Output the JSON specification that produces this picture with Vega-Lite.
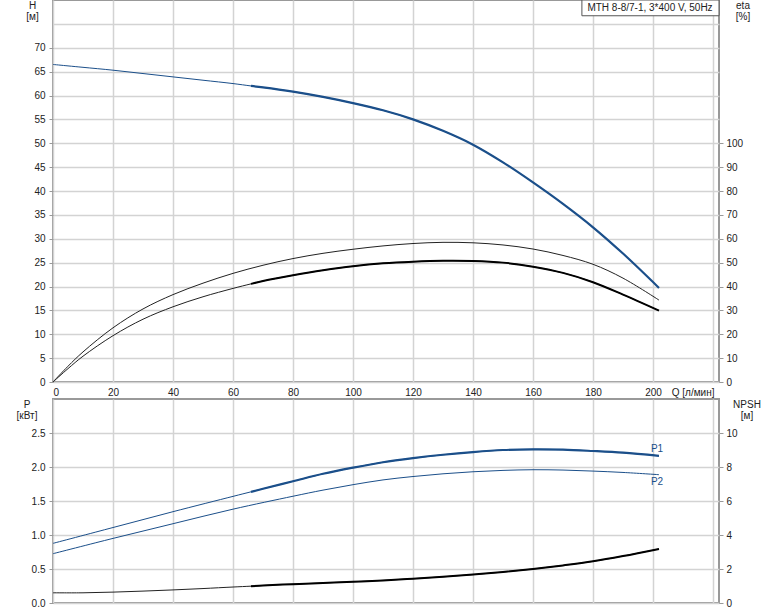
{
  "$schema": "https://vega.github.io/schema/vega-lite/v6.json",
  "padding": {"left": 15, "top": -2, "right": 0, "bottom": 0},
  "background": "white",
  "bounds": "flush",
  "spacing": 17,
  "config": {
    "font": "Liberation Sans",
    "view": {"stroke": "#999999", "strokeWidth": 2},
    "axis": {
      "labelFont": "Liberation Sans", "labelFontSize": 10, "labelColor": "#222222", "labelOverlap": false,
      "titleFont": "Liberation Sans", "titleFontSize": 10, "titleFontWeight": "normal", "titleColor": "#222222",
      "gridColor": "#d3d3d3", "gridWidth": 1.5, "tickColor": "#999999", "domain": false
    }
  },
  "datasets": {
    "H": [
      {"Q": 0, "H": 66.5}, {"Q": 5, "H": 66.2}, {"Q": 10, "H": 65.9}, {"Q": 20, "H": 65.3},
      {"Q": 30, "H": 64.6}, {"Q": 40, "H": 63.9}, {"Q": 50, "H": 63.2}, {"Q": 60, "H": 62.5},
      {"Q": 66, "H": 62.0}, {"Q": 70, "H": 61.7}, {"Q": 80, "H": 60.8}, {"Q": 90, "H": 59.7},
      {"Q": 100, "H": 58.4}, {"Q": 110, "H": 56.9}, {"Q": 120, "H": 55.0}, {"Q": 130, "H": 52.6},
      {"Q": 140, "H": 49.7}, {"Q": 150, "H": 46.0}, {"Q": 160, "H": 41.8}, {"Q": 170, "H": 37.3},
      {"Q": 180, "H": 32.4}, {"Q": 190, "H": 26.9}, {"Q": 202, "H": 19.7}
    ],
    "eta": [
      {"curve": "eta1", "Q": 0, "eta": 0}, {"curve": "eta1", "Q": 5, "eta": 6.6}, {"curve": "eta1", "Q": 10, "eta": 12.6},
      {"curve": "eta1", "Q": 20, "eta": 22.7}, {"curve": "eta1", "Q": 30, "eta": 30.6}, {"curve": "eta1", "Q": 40, "eta": 36.6},
      {"curve": "eta1", "Q": 50, "eta": 41.4}, {"curve": "eta1", "Q": 60, "eta": 45.5}, {"curve": "eta1", "Q": 70, "eta": 48.9},
      {"curve": "eta1", "Q": 80, "eta": 51.7}, {"curve": "eta1", "Q": 90, "eta": 53.9}, {"curve": "eta1", "Q": 100, "eta": 55.6},
      {"curve": "eta1", "Q": 110, "eta": 57.0}, {"curve": "eta1", "Q": 120, "eta": 58.0}, {"curve": "eta1", "Q": 130, "eta": 58.5},
      {"curve": "eta1", "Q": 140, "eta": 58.3}, {"curve": "eta1", "Q": 150, "eta": 57.4}, {"curve": "eta1", "Q": 160, "eta": 55.7},
      {"curve": "eta1", "Q": 170, "eta": 53.0}, {"curve": "eta1", "Q": 180, "eta": 49.3}, {"curve": "eta1", "Q": 190, "eta": 43.5},
      {"curve": "eta1", "Q": 202, "eta": 34.3},
      {"curve": "eta2", "Q": 0, "eta": 0}, {"curve": "eta2", "Q": 5, "eta": 5.6}, {"curve": "eta2", "Q": 10, "eta": 10.8},
      {"curve": "eta2", "Q": 20, "eta": 19.4}, {"curve": "eta2", "Q": 30, "eta": 26.3}, {"curve": "eta2", "Q": 40, "eta": 31.5},
      {"curve": "eta2", "Q": 50, "eta": 35.7}, {"curve": "eta2", "Q": 60, "eta": 39.2}, {"curve": "eta2", "Q": 66, "eta": 41.1},
      {"curve": "eta2", "Q": 70, "eta": 42.3}, {"curve": "eta2", "Q": 80, "eta": 44.7}, {"curve": "eta2", "Q": 90, "eta": 46.8},
      {"curve": "eta2", "Q": 100, "eta": 48.5}, {"curve": "eta2", "Q": 110, "eta": 49.7}, {"curve": "eta2", "Q": 120, "eta": 50.4},
      {"curve": "eta2", "Q": 130, "eta": 50.8}, {"curve": "eta2", "Q": 140, "eta": 50.7}, {"curve": "eta2", "Q": 150, "eta": 50.0},
      {"curve": "eta2", "Q": 160, "eta": 48.3}, {"curve": "eta2", "Q": 170, "eta": 45.7}, {"curve": "eta2", "Q": 180, "eta": 41.8},
      {"curve": "eta2", "Q": 190, "eta": 36.6}, {"curve": "eta2", "Q": 202, "eta": 29.9}
    ],
    "box": [{"Q": 176.3, "Q2": 222, "H": 76.7, "H2": 80, "Qt": 199, "Ht": 78.4, "label": "MTH 8-8/7-1, 3*400 V, 50Hz"}],
    "P": [
      {"curve": "P1", "Q": 0, "P": 0.877}, {"curve": "P1", "Q": 20, "P": 1.11}, {"curve": "P1", "Q": 40, "P": 1.343},
      {"curve": "P1", "Q": 60, "P": 1.568}, {"curve": "P1", "Q": 66, "P": 1.635}, {"curve": "P1", "Q": 70, "P": 1.68},
      {"curve": "P1", "Q": 80, "P": 1.79}, {"curve": "P1", "Q": 90, "P": 1.9}, {"curve": "P1", "Q": 100, "P": 1.99},
      {"curve": "P1", "Q": 110, "P": 2.07}, {"curve": "P1", "Q": 120, "P": 2.13}, {"curve": "P1", "Q": 130, "P": 2.18},
      {"curve": "P1", "Q": 140, "P": 2.22}, {"curve": "P1", "Q": 150, "P": 2.25}, {"curve": "P1", "Q": 160, "P": 2.26},
      {"curve": "P1", "Q": 170, "P": 2.255}, {"curve": "P1", "Q": 180, "P": 2.235}, {"curve": "P1", "Q": 190, "P": 2.21},
      {"curve": "P1", "Q": 202, "P": 2.165},
      {"curve": "P2", "Q": 0, "P": 0.725}, {"curve": "P2", "Q": 20, "P": 0.95}, {"curve": "P2", "Q": 40, "P": 1.166},
      {"curve": "P2", "Q": 60, "P": 1.38}, {"curve": "P2", "Q": 80, "P": 1.57}, {"curve": "P2", "Q": 90, "P": 1.66},
      {"curve": "P2", "Q": 100, "P": 1.74}, {"curve": "P2", "Q": 110, "P": 1.81}, {"curve": "P2", "Q": 120, "P": 1.86},
      {"curve": "P2", "Q": 130, "P": 1.90}, {"curve": "P2", "Q": 140, "P": 1.93}, {"curve": "P2", "Q": 150, "P": 1.95},
      {"curve": "P2", "Q": 160, "P": 1.96}, {"curve": "P2", "Q": 170, "P": 1.955}, {"curve": "P2", "Q": 180, "P": 1.94},
      {"curve": "P2", "Q": 190, "P": 1.92}, {"curve": "P2", "Q": 202, "P": 1.887}
    ],
    "Plabels": [{"Q": 199.3, "P": 2.265, "label": "P1"}, {"Q": 199.3, "P": 1.784, "label": "P2"}],
    "NPSH": [
      {"Q": 0, "NPSH": 0.6}, {"Q": 10, "NPSH": 0.6}, {"Q": 20, "NPSH": 0.64}, {"Q": 30, "NPSH": 0.7},
      {"Q": 40, "NPSH": 0.77}, {"Q": 50, "NPSH": 0.85}, {"Q": 60, "NPSH": 0.94}, {"Q": 66, "NPSH": 0.99},
      {"Q": 70, "NPSH": 1.03}, {"Q": 80, "NPSH": 1.11}, {"Q": 90, "NPSH": 1.18}, {"Q": 100, "NPSH": 1.25},
      {"Q": 110, "NPSH": 1.33}, {"Q": 120, "NPSH": 1.43}, {"Q": 130, "NPSH": 1.54}, {"Q": 140, "NPSH": 1.67},
      {"Q": 150, "NPSH": 1.82}, {"Q": 160, "NPSH": 2.0}, {"Q": 170, "NPSH": 2.21}, {"Q": 180, "NPSH": 2.45},
      {"Q": 190, "NPSH": 2.76}, {"Q": 202, "NPSH": 3.18}
    ]
  },
  "vconcat": [
    {
      "width": 666,
      "height": 382,
      "resolve": {"scale": {"y": "independent"}, "axis": {"y": "independent"}},
      "layer": [
        {
          "data": {"name": "H"},
          "mark": {"type": "line", "interpolate": "catmull-rom", "color": "#1b4f8a", "strokeWidth": 1},
          "encoding": {
            "x": {"field": "Q", "type": "quantitative", "scale": {"domain": [0, 222], "nice": false},
              "axis": {"orient": "bottom", "values": [0, 20, 40, 60, 80, 100, 120, 140, 160, 180, 200, 220],
                "labelExpr": "datum.value > 200 ? '' : datum.label", "ticks": false, "tickSize": 0, "labelPadding": 5,
                "title": "Q [л/мин]", "titleX": 661, "titleY": 13, "titleAlign": "right", "titleBaseline": "alphabetic", "grid": true}},
            "y": {"field": "H", "type": "quantitative", "scale": {"domain": [0, 80], "nice": false},
              "axis": {"orient": "left", "values": [0, 5, 10, 15, 20, 25, 30, 35, 40, 45, 50, 55, 60, 65, 70, 75],
                "labelExpr": "datum.value > 70 ? '' : datum.label",
                "tickOpacity": {"condition": {"test": "datum.value > 70", "value": 0}, "value": 1},
                "tickSize": 4, "labelPadding": 4, "grid": true,
                "title": ["H", "[м]"], "titleAngle": 0, "titleAlign": "center", "titleBaseline": "alphabetic",
                "titleX": -21, "titleY": 8, "titleLineHeight": 11}}
          }
        },
        {
          "data": {"name": "eta"},
          "mark": {"type": "line", "interpolate": "catmull-rom", "color": "#222222", "strokeWidth": 1},
          "encoding": {
            "x": {"field": "Q", "type": "quantitative", "scale": {"domain": [0, 222], "nice": false}},
            "y": {"field": "eta", "type": "quantitative", "scale": {"domain": [0, 160], "nice": false},
              "axis": {"orient": "right", "values": [0, 10, 20, 30, 40, 50, 60, 70, 80, 90, 100],
                "tickSize": 4, "labelPadding": 3, "grid": false,
                "title": ["eta", "[%]"], "titleAngle": 0, "titleAlign": "center", "titleBaseline": "alphabetic",
                "titleX": 23.5, "titleY": 8, "titleLineHeight": 11}},
            "detail": {"field": "curve"}
          }
        },
        {
          "data": {"name": "H"},
          "transform": [{"filter": "datum.Q >= 66"}],
          "mark": {"type": "line", "interpolate": "catmull-rom", "color": "#1b4f8a", "strokeWidth": 2.2},
          "encoding": {
            "x": {"field": "Q", "type": "quantitative", "scale": {"domain": [0, 222], "nice": false}},
            "y": {"field": "H", "type": "quantitative", "scale": {"domain": [0, 80], "nice": false}, "axis": null}
          }
        },
        {
          "data": {"name": "eta"},
          "transform": [{"filter": "datum.curve === 'eta2' && datum.Q >= 66"}],
          "mark": {"type": "line", "interpolate": "catmull-rom", "color": "#000000", "strokeWidth": 2},
          "encoding": {
            "x": {"field": "Q", "type": "quantitative", "scale": {"domain": [0, 222], "nice": false}},
            "y": {"field": "eta", "type": "quantitative", "scale": {"domain": [0, 160], "nice": false}, "axis": null}
          }
        },
        {
          "data": {"name": "box"},
          "mark": {"type": "rect", "fill": "white", "stroke": "#555555", "strokeWidth": 1},
          "encoding": {
            "x": {"field": "Q", "type": "quantitative", "scale": {"domain": [0, 222], "nice": false}},
            "x2": {"field": "Q2"},
            "y": {"field": "H", "type": "quantitative", "scale": {"domain": [0, 80], "nice": false}, "axis": null},
            "y2": {"field": "H2"}
          }
        },
        {
          "data": {"name": "box"},
          "mark": {"type": "text", "font": "Liberation Sans", "fontSize": 10, "color": "#222222", "align": "center", "baseline": "middle"},
          "encoding": {
            "x": {"field": "Qt", "type": "quantitative", "scale": {"domain": [0, 222], "nice": false}},
            "y": {"field": "Ht", "type": "quantitative", "scale": {"domain": [0, 80], "nice": false}, "axis": null},
            "text": {"field": "label"}
          }
        }
      ]
    },
    {
      "width": 666,
      "height": 204,
      "resolve": {"scale": {"y": "independent"}, "axis": {"y": "independent"}},
      "layer": [
        {
          "data": {"name": "P"},
          "mark": {"type": "line", "interpolate": "catmull-rom", "color": "#1b4f8a", "strokeWidth": 1},
          "encoding": {
            "x": {"field": "Q", "type": "quantitative", "scale": {"domain": [0, 222], "nice": false},
              "axis": {"values": [0, 20, 40, 60, 80, 100, 120, 140, 160, 180, 200, 220], "labels": false, "ticks": false, "title": null, "grid": true}},
            "y": {"field": "P", "type": "quantitative", "scale": {"domain": [0, 3], "nice": false},
              "axis": {"orient": "left", "values": [0, 0.5, 1, 1.5, 2, 2.5], "format": ".1f",
                "tickSize": 4, "labelPadding": 4, "grid": true,
                "title": ["P", "[кВт]"], "titleAngle": 0, "titleAlign": "center", "titleBaseline": "alphabetic",
                "titleX": -26.5, "titleY": 8, "titleLineHeight": 11}},
            "detail": {"field": "curve"}
          }
        },
        {
          "data": {"name": "NPSH"},
          "mark": {"type": "line", "interpolate": "catmull-rom", "color": "#222222", "strokeWidth": 1},
          "encoding": {
            "x": {"field": "Q", "type": "quantitative", "scale": {"domain": [0, 222], "nice": false}},
            "y": {"field": "NPSH", "type": "quantitative", "scale": {"domain": [0, 12], "nice": false},
              "axis": {"orient": "right", "values": [0, 2, 4, 6, 8, 10],
                "tickSize": 4, "labelPadding": 3, "grid": false,
                "title": ["NPSH", "[м]"], "titleAngle": 0, "titleAlign": "center", "titleBaseline": "alphabetic",
                "titleX": 27.5, "titleY": 8, "titleLineHeight": 11}}
          }
        },
        {
          "data": {"name": "P"},
          "transform": [{"filter": "datum.curve === 'P1' && datum.Q >= 66"}],
          "mark": {"type": "line", "interpolate": "catmull-rom", "color": "#1b4f8a", "strokeWidth": 2.2},
          "encoding": {
            "x": {"field": "Q", "type": "quantitative", "scale": {"domain": [0, 222], "nice": false}},
            "y": {"field": "P", "type": "quantitative", "scale": {"domain": [0, 3], "nice": false}, "axis": null}
          }
        },
        {
          "data": {"name": "NPSH"},
          "transform": [{"filter": "datum.Q >= 66"}],
          "mark": {"type": "line", "interpolate": "catmull-rom", "color": "#000000", "strokeWidth": 2},
          "encoding": {
            "x": {"field": "Q", "type": "quantitative", "scale": {"domain": [0, 222], "nice": false}},
            "y": {"field": "NPSH", "type": "quantitative", "scale": {"domain": [0, 12], "nice": false}, "axis": null}
          }
        },
        {
          "data": {"name": "Plabels"},
          "mark": {"type": "text", "font": "Liberation Sans", "fontSize": 10, "color": "#1b4f8a", "align": "left", "baseline": "middle"},
          "encoding": {
            "x": {"field": "Q", "type": "quantitative", "scale": {"domain": [0, 222], "nice": false}},
            "y": {"field": "P", "type": "quantitative", "scale": {"domain": [0, 3], "nice": false}, "axis": null},
            "text": {"field": "label"}
          }
        }
      ]
    }
  ]
}
